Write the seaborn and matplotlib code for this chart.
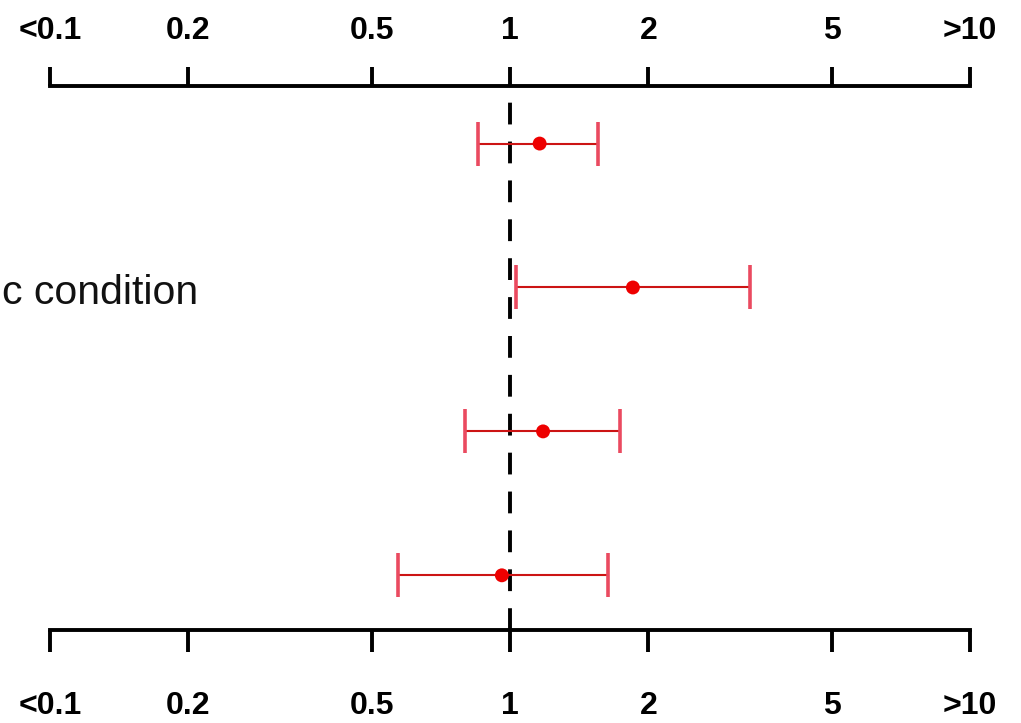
import matplotlib
matplotlib.use("Agg")
import matplotlib.pyplot as plt
import seaborn as sns
import pandas as pd

# odds ratios with 95% CI, rows top to bottom
rows = [1, 2, 3, 4]
or_est = [1.16, 1.85, 1.18, 0.96]
ci_low = [0.85, 1.03, 0.80, 0.57]
ci_high = [1.55, 3.32, 1.73, 1.63]

tick_vals = [0.1, 0.2, 0.5, 1, 2, 5, 10]
tick_labels = ["<0.1", "0.2", "0.5", "1", "2", "5", ">10"]
row_label = "c condition"

sns.set_style("white")
plt.rcParams['font.family'] = ['Liberation Sans', 'DejaVu Sans']

df = pd.DataFrame({"row": rows, "est": or_est, "lo": ci_low, "hi": ci_high})

fig = plt.figure(figsize=(10.21, 7.23), dpi=100)
ax = fig.add_axes([50 / 1021, 1 - 630 / 723, 920 / 1021, 544 / 723])

# reference line at OR = 1
ax.axvline(1, color="black", lw=2.8, linestyle=(0, (5.6, 4.4)), zorder=1)

# confidence intervals
err = [df["est"] - df["lo"], df["hi"] - df["est"]]
_, caps, _ = ax.errorbar(df["est"], df["row"], xerr=err, fmt="none",
                         ecolor="#cc1414", elinewidth=1.5,
                         capsize=15.8, capthick=2.6, zorder=2)
for c in caps:
    c.set_markeredgecolor("#ea4a60")

sns.scatterplot(data=df, x="est", y="row", color="#ee0000", s=100,
                edgecolor="none", ax=ax, zorder=3, legend=False)

ax.set_xscale("log")
ax.set_xlim(0.1, 10)
ax.set_ylim(4.38, 0.6)
ax.set_xlabel("")
ax.set_ylabel("")
ax.set_yticks([])

ax.minorticks_off()
ax.set_xticks(tick_vals)
ax.set_xticklabels(tick_labels, fontsize=23, fontweight="bold")
ax.tick_params(axis="x", which="major", direction="out", length=16,
               width=2.8, pad=28, colors="black", bottom=True, top=False)

for side in ["left", "right", "top"]:
    ax.spines[side].set_visible(False)
ax.spines["bottom"].set_linewidth(2.8)
ax.spines["bottom"].set_color("black")

# top axis
ax2 = ax.twiny()
ax2.set_xscale("log")
ax2.set_xlim(0.1, 10)
ax2.minorticks_off()
ax2.set_xticks(tick_vals)
ax2.set_xticklabels(tick_labels, fontsize=23, fontweight="bold")
ax2.tick_params(axis="x", which="major", direction="out", length=14,
                width=2.8, pad=15, colors="black")
for side in ["left", "right", "bottom"]:
    ax2.spines[side].set_visible(False)
ax2.spines["top"].set_linewidth(2.8)
ax2.spines["top"].set_color("black")

fig.text(198 / 1021, 1 - 293 / 723, row_label, ha="right", va="center",
         fontsize=29.5, color="#111111")

fig.savefig("out.png", dpi=100, facecolor="white")
